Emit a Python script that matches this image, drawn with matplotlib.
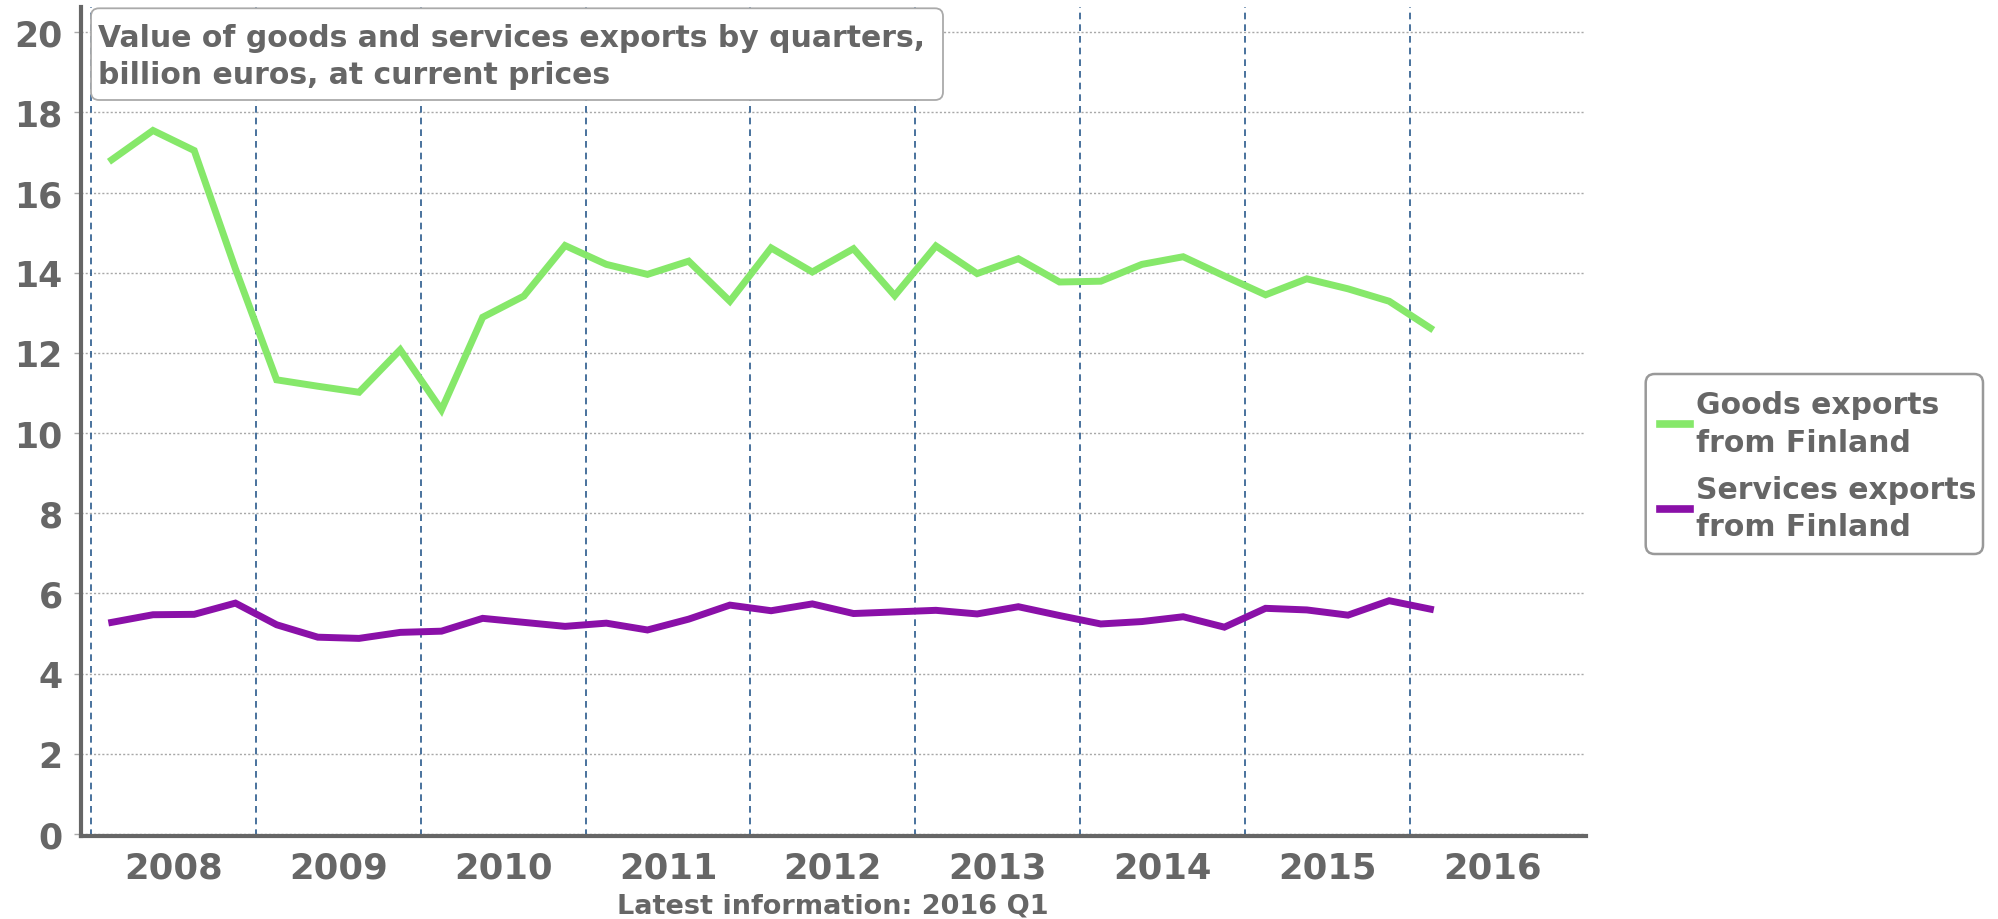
import matplotlib
matplotlib.use("Agg")
import matplotlib.pyplot as plt
from matplotlib.patches import FancyBboxPatch
from matplotlib.transforms import IdentityTransform
import numpy as np

# ---- data ----
quarters = [f"{y}Q{q}" for y in range(2008, 2016) for q in range(1, 5)] + ["2016Q1"]
goods = [16.82, 17.55, 17.05, 14.10,
         11.33, 11.17, 11.02, 12.08,
         10.58, 12.89, 13.42, 14.68,
         14.21, 13.96, 14.29, 13.29,
         14.62, 14.02, 14.60, 13.43,
         14.67, 13.98, 14.35, 13.77,
         13.79, 14.21, 14.40, 13.92,
         13.45, 13.85, 13.60, 13.29,
         12.62]
services = [5.28, 5.47, 5.48, 5.76,
            5.22, 4.91, 4.88, 5.03,
            5.06, 5.38, 5.28, 5.18,
            5.26, 5.09, 5.36, 5.71,
            5.57, 5.74, 5.50, 5.54,
            5.58, 5.49, 5.67, 5.45,
            5.24, 5.30, 5.42, 5.16,
            5.63, 5.59, 5.46, 5.82,
            5.61]
years = list(range(2008, 2017))
yticks = list(range(0, 21, 2))
series_names = ["Goods exports\nfrom Finland", "Services exports\nfrom Finland"]
title = "Value of goods and services exports by quarters,\nbillion euros, at current prices"
footnote = "Latest information: 2016 Q1"

# ---- style ----
TXT = "#666666"
GREEN = "#86e86a"
PURPLE = "#8a10a8"
plt.rcParams['font.family'] = ['DejaVu Sans']
plt.rcParams['font.weight'] = 'bold'

W, H = 1999, 920
fig = plt.figure(figsize=(W / 100, H / 100), dpi=100)
ax = fig.add_axes([80.8 / W, 1 - 836.7 / H, (1585.5 - 80.8) / W, (836.7 - 8) / H])

xq = [int(s[:4]) + (int(s[-1]) - 0.5) / 4 for s in quarters]

ax.plot(xq, goods, color=GREEN, lw=5.0, label=series_names[0], solid_joinstyle='miter', zorder=3)
ax.plot(xq, services, color=PURPLE, lw=5.0, label=series_names[1], solid_joinstyle='miter', zorder=3)

ax.set_xlim(2007.937, 2017.066)
ax.set_ylim(-0.042, 20.63)

# grids
for y in yticks:
    ax.axhline(y, color="#a8a8a8", lw=1.0, ls=(0, (1.5, 1.5)), zorder=1)
for yr in years:
    ax.axvline(yr, color="#2a5a8c", lw=1.2, ls=(0, (4, 3)), zorder=1)

ax.set_yticks(yticks)
ax.set_yticklabels([str(v) for v in yticks], fontsize=25, fontweight='bold', color=TXT)
ax.tick_params(axis='y', length=5, width=1, color="#aaaaaa", pad=8)
ax.set_xticks([yr + 0.5 for yr in years])
ax.set_xticklabels([str(yr) for yr in years], fontsize=25.5, fontweight='bold', color=TXT)
ax.tick_params(axis='x', length=0, pad=11)

for s in ['top', 'right']:
    ax.spines[s].set_visible(False)
for s in ['left', 'bottom']:
    ax.spines[s].set_color(TXT)
    ax.spines[s].set_linewidth(3.0)

# title box (pixel coordinates, origin bottom-left)
box = FancyBboxPatch((91, H - 101), 943 - 91, 101 - 9.3,
                     boxstyle='round,pad=0,rounding_size=8',
                     transform=IdentityTransform(), fc='white', ec='#aaaaaa', lw=1.3, zorder=5)
fig.patches.append(box)
fig.text(98 / W, 1 - 24 / H, title, fontsize=21.5, fontweight='bold', color=TXT,
         ha='left', va='top', linespacing=1.36, zorder=6)

# legend frame (pixel coordinates)
lbox = FancyBboxPatch((1645.7, H - 555), 1983 - 1645.7, 555 - 375,
                      boxstyle='round,pad=0,rounding_size=9',
                      transform=IdentityTransform(), fc='white', ec='#999999', lw=1.8, zorder=5)
fig.patches.append(lbox)
leg = fig.legend(loc='upper left', bbox_to_anchor=(1660 / W, 1 - 391 / H),
                 bbox_transform=fig.transFigure, borderaxespad=0,
                 prop=dict(size=21.5, weight='bold'), handlelength=1.0, handletextpad=0.2,
                 borderpad=0, labelspacing=0.6, frameon=False)
leg.set_zorder(6)
for t in leg.get_texts():
    t.set_color(TXT)
    t.set_linespacing(1.38)
for l in leg.get_lines():
    l.set_linewidth(5.5)

fig.text(833 / W, 1 - 914 / H, footnote, fontsize=19.5, fontweight='bold', color=TXT,
         ha='center', va='baseline')

fig.savefig("out.png", dpi=100)
